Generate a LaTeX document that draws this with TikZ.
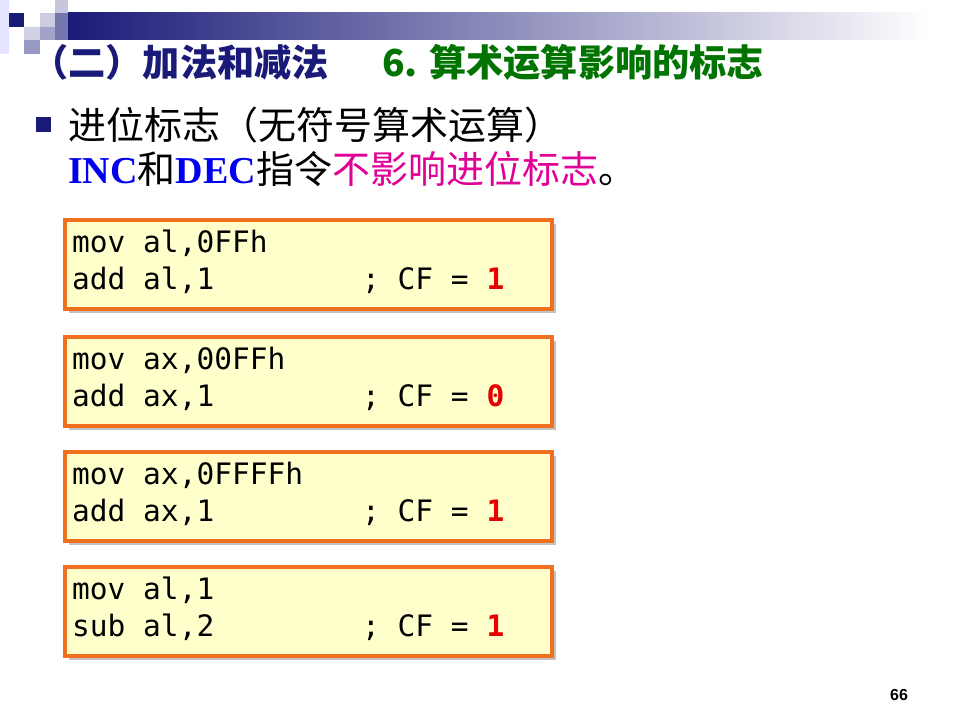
\documentclass[tikz,border=0pt]{standalone}
\usepackage{fontspec}
\setmainfont{Liberation Serif}
\newfontfamily\cjk{Noto Sans CJK SC}
\newfontfamily\codefont{DejaVu Sans Mono}
\newfontfamily\pagefont{Liberation Sans}
\usetikzlibrary{shadows}
\definecolor{titlenavy}{RGB}{26,26,120}
\definecolor{titlegreen}{RGB}{0,115,0}
\definecolor{incblue}{RGB}{0,0,240}
\definecolor{hilite}{RGB}{225,0,150}
\definecolor{boxorange}{RGB}{240,112,32}
\definecolor{boxyellow}{RGB}{255,255,204}
\definecolor{cfred}{RGB}{230,0,0}
\begin{document}
\begin{tikzpicture}[
        x=1pt, y=-1pt,
        codebox/.style={draw=boxorange, line width=3.8pt, fill=boxyellow,
            minimum width=487.5pt, minimum height=89pt, inner sep=0pt,
            anchor=north west,
            drop shadow={shadow xshift=4pt, shadow yshift=-4pt,
                fill=black!40, opacity=0.6}},
        code/.style={anchor=base west, inner sep=0pt,
            font=\codefont\fontsize{29.5}{36}\selectfont},
        line/.style={anchor=base west, inner sep=0pt,
            font=\cjk\fontsize{38}{44}\selectfont},
        heading/.style={anchor=base west, inner sep=0pt,
            font=\cjk\bfseries\fontsize{37.2}{40}\selectfont},
    ]
        \useasboundingbox (0,0) rectangle (961,719);

        \fill[blue!20!white, opacity=0.5] (0,0) rectangle (9,54);
        \fill[titlenavy] (9,13) rectangle (24,27);
        \fill[titlenavy!20] (24,27) rectangle (40,40);
        \fill[titlenavy!45] (24,40) rectangle (40,54);
        \fill[titlenavy!22] (40,13) rectangle (55,27);
        \fill[titlenavy!40] (40,27) rectangle (55,40);
        \fill[titlenavy!25] (55,0) rectangle (68,13);
        \fill[titlenavy!60] (55,13) rectangle (68,40);
        \shade[left color=titlenavy, right color=white] (68,13) rectangle (930,40);

        \node[heading, text=titlenavy] (title) at (31,77) {（二）加法和减法};
        \node[heading, text=titlegreen] (topic) at (382,77) {6. 算术运算影响的标志};

        \node[fill=titlenavy, minimum size=15pt, inner sep=0pt] (bullet) at (43,125) {};
        \node[line] (carry) at (68,140) {进位标志（无符号算术运算）};
        \node[line] (incdec) at (68,184)
            {{\rmfamily\bfseries\color{incblue}INC}和{\rmfamily\bfseries\color{incblue}DEC}指令{\color{hilite}不影响进位标志}。};

        \node[codebox] (box1) at (62.9,217.9) {};
        \node[code] (mov1) at (72,252.5) {mov al,0FFh};
        \node[code] (add1) at (72,289.5) {add al,1};
        \node[code] (cf1) at (362,289.5) {; CF = \textcolor{cfred}{\bfseries 1}};

        \node[codebox] (box2) at (62.9,334.9) {};
        \node[code] (mov2) at (72,369) {mov ax,00FFh};
        \node[code] (add2) at (72,406) {add ax,1};
        \node[code] (cf2) at (362,406) {; CF = \textcolor{cfred}{\bfseries 0}};

        \node[codebox] (box3) at (62.9,449.9) {};
        \node[code] (mov3) at (72,484) {mov ax,0FFFFh};
        \node[code] (add3) at (72,521) {add ax,1};
        \node[code] (cf3) at (362,521) {; CF = \textcolor{cfred}{\bfseries 1}};

        \node[codebox] (box4) at (62.9,564.9) {};
        \node[code] (mov4) at (72,599) {mov al,1};
        \node[code] (sub4) at (72,636) {sub al,2};
        \node[code] (cf4) at (362,636) {; CF = \textcolor{cfred}{\bfseries 1}};

        \node[font=\pagefont\bfseries\fontsize{16}{18}\selectfont] (page) at (899,695) {66};
    \end{tikzpicture}
\end{document}
